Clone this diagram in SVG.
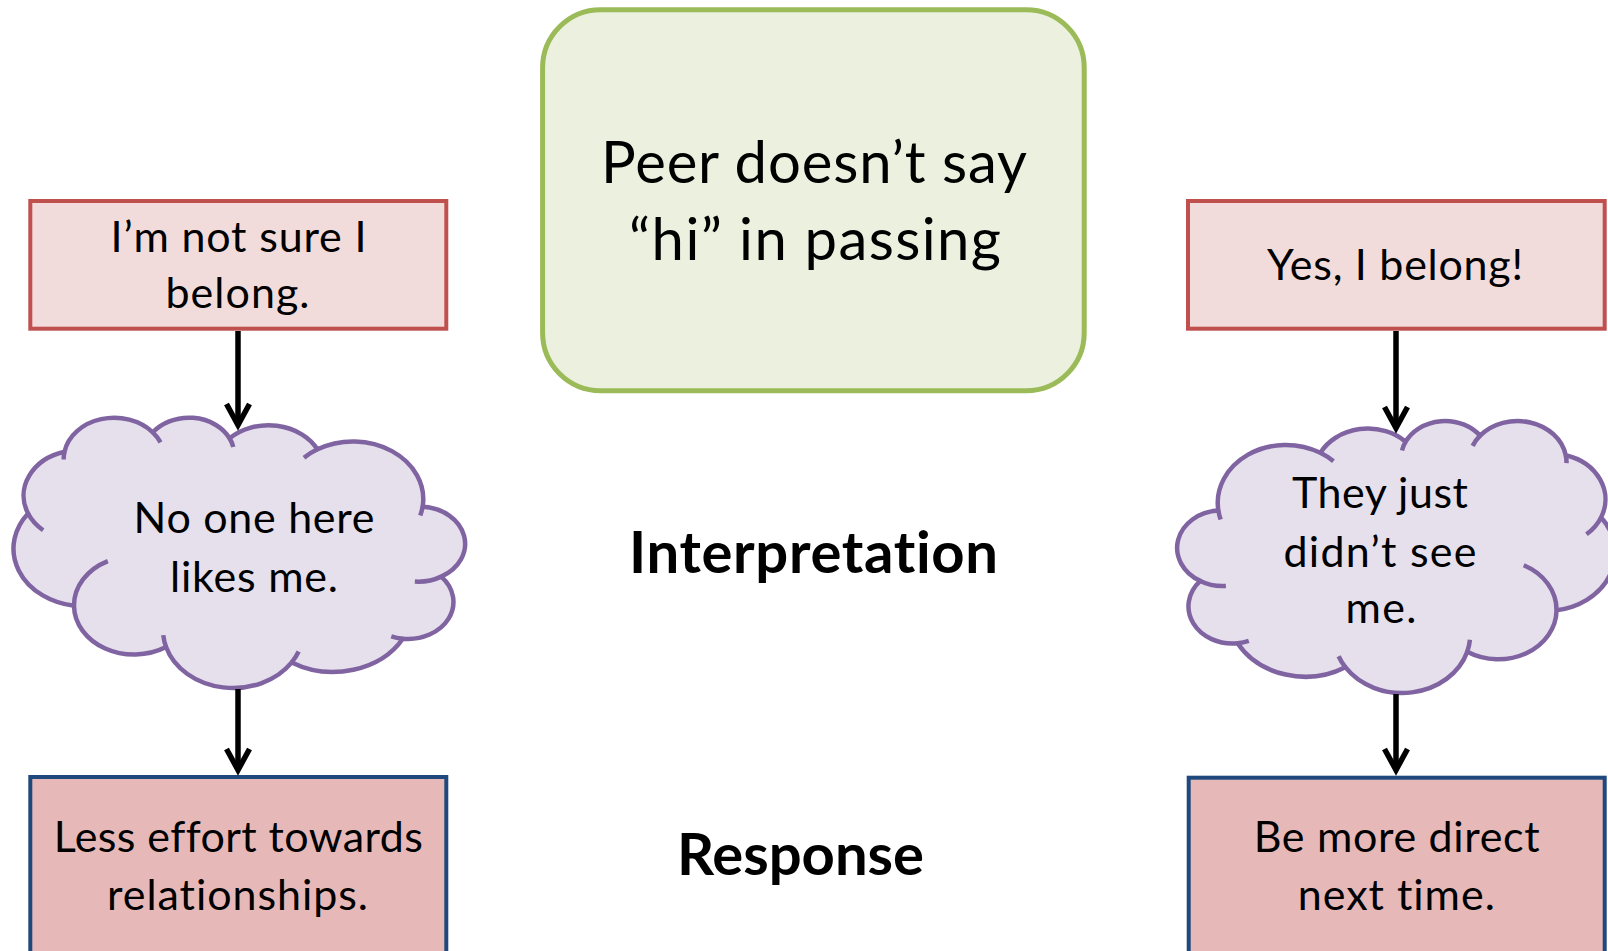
<svg xmlns="http://www.w3.org/2000/svg" width="1608" height="951" viewBox="0 0 1608 951">
  <style>
    .txt { font-family: Lato, "Open Sans", "Liberation Sans", sans-serif; font-size: 43px; fill: #000; text-anchor: middle; font-variant-ligatures: none; font-feature-settings: "liga" 0, "clig" 0; }
    .big { font-size: 58px; }
    .label { font-family: Lato, "Open Sans", "Liberation Sans", sans-serif; font-size: 58px; font-weight: bold; fill: #000; text-anchor: middle; font-variant-ligatures: none; font-feature-settings: "liga" 0, "clig" 0; }
    .belief { fill: #f2dcdb; stroke: #c0504d; stroke-width: 4; }
    .response { fill: #e6b9b8; stroke: #1f497d; stroke-width: 4; }
    .event { fill: #ebf1de; stroke: #9bbb59; stroke-width: 5; }
    .cloud-body { fill: #e5e0ec; stroke: #8064a2; stroke-width: 4.5; stroke-linejoin: round; }
    .cloud-inner { fill: none; stroke: #8064a2; stroke-width: 4.5; stroke-linecap: butt; }
    .link { fill: none; stroke: #000; stroke-width: 5.5; }
  </style>
  <defs>
    <!-- open chevron arrowhead -->
    <marker id="open-arrow" markerUnits="userSpaceOnUse" markerWidth="30" markerHeight="30" refX="0" refY="0" orient="auto" overflow="visible">
      <path d="M-21,-11.5 L0,0 L-21,11.5" fill="none" stroke="#000" stroke-width="5.5" stroke-linejoin="miter"/>
    </marker>
  </defs>

  <rect width="1608" height="951" fill="#ffffff"/>

  <!-- central event -->
  <g id="event">
    <rect class="event" x="542.6" y="9.8" width="541.6" height="381" rx="58" ry="58"/>
    <text class="txt big" x="814" y="183.3" textLength="426" lengthAdjust="spacing">Peer doesn’t say</text>
    <text class="txt big" x="815" y="260" textLength="372" lengthAdjust="spacing">“hi” in passing</text>
  </g>

  <!-- row labels -->
  <g id="label-interpretation">
    <text class="label" x="813.5" y="573.3" textLength="369" lengthAdjust="spacing">Interpretation</text>
  </g>
  <g id="label-response">
    <text class="label" x="800.5" y="875" textLength="247" lengthAdjust="spacing">Response</text>
  </g>

  <!-- left column -->
  <g id="belief-unsure">
    <rect class="belief" x="30.3" y="201" width="416" height="127.7"/>
    <text class="txt" x="238.5" y="251.7" textLength="256" lengthAdjust="spacing">I’m not sure I</text>
    <text class="txt" x="237.5" y="308.3" textLength="144" lengthAdjust="spacing">belong.</text>
  </g>
  <g id="thought-disliked">
    <!-- cloud drawn in a 43200-unit box, mirrored left-to-right -->
    <g transform="translate(463.2,416.8) scale(-0.010405,0.006255)">
      <path class="cloud-body" vector-effect="non-scaling-stroke" d="M3900 14370 A6753 9190 0 0 1 14006 5203 A5333 7267 0 0 1 22456 3433 A4365 5945 0 0 1 29833 2481 A4857 6595 0 0 1 38319 5577 A5333 7273 0 0 1 41819 15460 A6775 9220 0 0 1 37405 30204 A5785 7867 0 0 1 28557 36814 A6752 9215 0 0 1 16481 39264 A7720 10543 0 0 1 5806 35470 A4360 5918 0 0 1 2114 25549 A4345 5945 0 0 1 3900 14370 Z"/>
      <path class="cloud-inner" vector-effect="non-scaling-stroke" d="M4647 26346 A4345 5945 0 0 1 2114 25549 M6914 35089 A4360 5918 0 0 1 5806 35470 M16481 39264 A6752 9215 0 0 1 15814 37525 M28824 34905 A6752 9215 0 0 1 28557 36814 M34154 23068 A5785 7867 0 0 1 37405 30204 M41819 15460 A5333 7273 0 0 1 40371 18136 M38319 5577 A4857 6595 0 0 1 38395 6840 M29092 4092 A4857 6595 0 0 1 29833 2481 M22097 4823 A4365 5945 0 0 1 22456 3433 M14006 5203 A6753 9190 0 0 1 15305 6551 M4127 15789 A6753 9190 0 0 1 3900 14370"/>
    </g>
    <text class="txt" x="254" y="533.3" textLength="241" lengthAdjust="spacing">No one here</text>
    <text class="txt" x="254" y="591.7" textLength="168" lengthAdjust="spacing">likes me.</text>
  </g>
  <g id="response-withdraw">
    <rect class="response" x="30.3" y="777" width="416" height="190"/>
    <text class="txt" x="238.3" y="851.7" textLength="369" lengthAdjust="spacing">Less effort towards</text>
    <text class="txt" x="237.5" y="910" textLength="261" lengthAdjust="spacing">relationships.</text>
  </g>

  <!-- right column -->
  <g id="belief-sure">
    <rect class="belief" x="1188" y="201" width="416.7" height="127.7"/>
    <text class="txt" x="1395" y="280" textLength="256" lengthAdjust="spacing">Yes, I belong!</text>
  </g>
  <g id="thought-unseen">
    <!-- cloud drawn in a 43200-unit box -->
    <g transform="translate(1179,420.1) scale(0.010093,0.006294)">
      <path class="cloud-body" vector-effect="non-scaling-stroke" d="M3900 14370 A6753 9190 0 0 1 14006 5203 A5333 7267 0 0 1 22456 3433 A4365 5945 0 0 1 29833 2481 A4857 6595 0 0 1 38319 5577 A5333 7273 0 0 1 41819 15460 A6775 9220 0 0 1 37405 30204 A5785 7867 0 0 1 28557 36814 A6752 9215 0 0 1 16481 39264 A7720 10543 0 0 1 5806 35470 A4360 5918 0 0 1 2114 25549 A4345 5945 0 0 1 3900 14370 Z"/>
      <path class="cloud-inner" vector-effect="non-scaling-stroke" d="M4647 26346 A4345 5945 0 0 1 2114 25549 M6914 35089 A4360 5918 0 0 1 5806 35470 M16481 39264 A6752 9215 0 0 1 15814 37525 M28824 34905 A6752 9215 0 0 1 28557 36814 M34154 23068 A5785 7867 0 0 1 37405 30204 M41819 15460 A5333 7273 0 0 1 40371 18136 M38319 5577 A4857 6595 0 0 1 38395 6840 M29092 4092 A4857 6595 0 0 1 29833 2481 M22097 4823 A4365 5945 0 0 1 22456 3433 M14006 5203 A6753 9190 0 0 1 15305 6551 M4127 15789 A6753 9190 0 0 1 3900 14370"/>
    </g>
    <text class="txt" x="1380" y="508.3" textLength="176" lengthAdjust="spacing">They just</text>
    <text class="txt" x="1380" y="566.7" textLength="193" lengthAdjust="spacing">didn’t see</text>
    <text class="txt" x="1381" y="623.3" textLength="71" lengthAdjust="spacing">me.</text>
  </g>
  <g id="response-direct">
    <rect class="response" x="1188.7" y="777.7" width="416" height="190"/>
    <text class="txt" x="1396.7" y="851.7" textLength="286" lengthAdjust="spacing">Be more direct</text>
    <text class="txt" x="1396.3" y="910" textLength="197" lengthAdjust="spacing">next time.</text>
  </g>

  <!-- connectors -->
  <g id="connectors">
    <path class="link" d="M238 331 V425" marker-end="url(#open-arrow)"/>
    <path class="link" d="M238 689 V770" marker-end="url(#open-arrow)"/>
    <path class="link" d="M1396 331 V428" marker-end="url(#open-arrow)"/>
    <path class="link" d="M1396 694 V770" marker-end="url(#open-arrow)"/>
  </g>
</svg>
